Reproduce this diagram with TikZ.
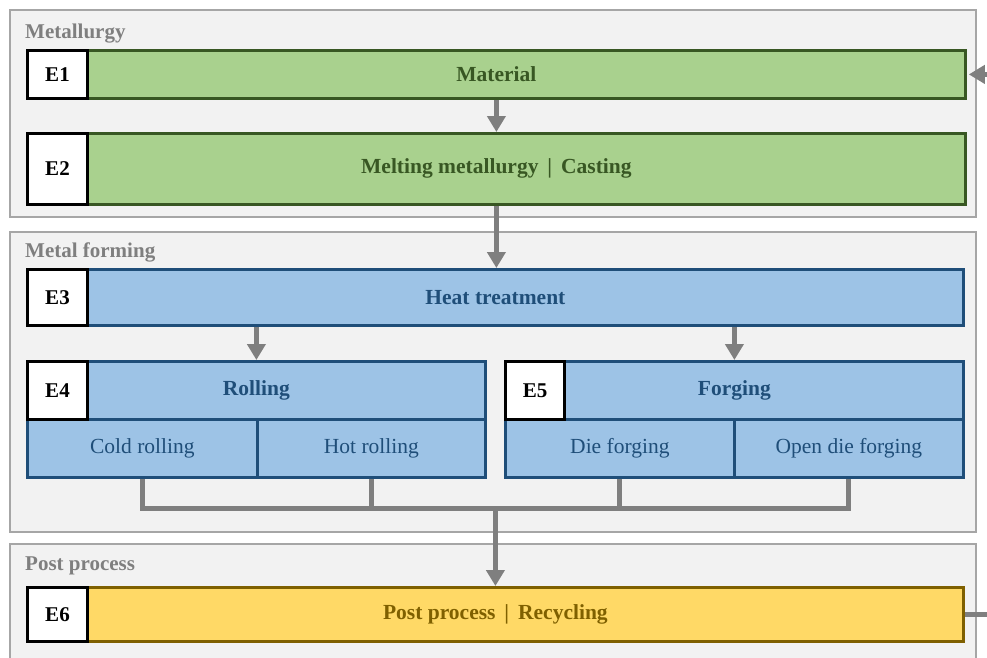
\documentclass[tikz,border=0pt]{standalone}
\usepackage{fontspec}
\setmainfont{Liberation Serif}
\usetikzlibrary{arrows.meta}

\definecolor{grpfill}{HTML}{F2F2F2}
\definecolor{grpline}{HTML}{A6A6A6}
\definecolor{grntxt}{HTML}{385723}
\definecolor{grnfill}{HTML}{A9D18E}
\definecolor{bluetxt}{HTML}{1F4E79}
\definecolor{bluefill}{HTML}{9DC3E6}
\definecolor{yeltxt}{HTML}{7F6000}
\definecolor{yelfill}{HTML}{FFD966}
\definecolor{flowgray}{HTML}{7F7F7F}

\newcommand\boxfont{\fontsize{21.5}{24}\selectfont}

\tikzset{
  group/.style={fill=grpfill, draw=grpline, line width=2pt},
  grptitle/.style={anchor=base west, inner sep=0, text=flowgray,
    font=\fontsize{21}{23}\selectfont\bfseries},
  box/.style={anchor=north west, inner sep=0, line width=2.8pt, font=\boxfont},
  greenbox/.style={box, fill=grnfill, draw=grntxt, text=grntxt, font=\boxfont\bfseries},
  bluebox/.style={box, fill=bluefill, draw=bluetxt, text=bluetxt},
  yellowbox/.style={box, fill=yelfill, draw=yeltxt, text=yeltxt, font=\boxfont\bfseries},
  tag/.style={anchor=north west, inner sep=0, fill=white, draw=black, line width=3pt,
    minimum width=60pt, font=\fontsize{21}{24}\selectfont\bfseries},
  link/.style={draw=flowgray, line width=5pt},
  flow/.style={link, -{Triangle[width=18pt,length=16pt]}},
}

\begin{document}
\begin{tikzpicture}[x=1pt, y=-1pt]
  \useasboundingbox (0,0) rectangle (987,657);
  \clip (0,0) rectangle (987,657);

  % process groups
  \draw[group] (10,10) rectangle (976,217);
  \draw[group] (10,232) rectangle (976,532);
  \draw[group] (10,544) rectangle (976,680);
  \node[grptitle] (t1) at (25,38) {Metallurgy};
  \node[grptitle] (t2) at (25,257) {Metal forming};
  \node[grptitle] (t3) at (25,570) {Post process};

  % metallurgy
  \node[greenbox, minimum width=938pt, minimum height=48pt] (e1) at (26,49) {Material};
  \node[tag, minimum height=48pt] (e1t) at (26,49) {E1};
  \node[greenbox, minimum width=938pt, minimum height=71pt] (e2) at (26,132)
    {Melting metallurgy \,|\, Casting};
  \node[tag, minimum height=71pt] (e2t) at (26,132) {E2};

  % metal forming
  \node[bluebox, minimum width=936pt, minimum height=56pt, font=\boxfont\bfseries]
    (e3) at (26,268) {Heat treatment};
  \node[tag, minimum height=56pt] (e3t) at (26,268) {E3};

  \node[bluebox, minimum width=458pt, minimum height=58pt, font=\boxfont\bfseries]
    (e4) at (26,360) {Rolling};
  \node[bluebox, minimum width=230pt, minimum height=58pt] (cold) at (26,418) {Cold rolling};
  \node[bluebox, minimum width=228pt, minimum height=58pt] (hot) at (256,418) {Hot rolling};
  \node[tag, minimum height=58pt] (e4t) at (26,360) {E4};

  \node[bluebox, minimum width=458pt, minimum height=58pt, font=\boxfont\bfseries]
    (e5) at (504,360) {Forging};
  \node[bluebox, minimum width=229pt, minimum height=58pt] (die) at (504,418) {Die forging};
  \node[bluebox, minimum width=229pt, minimum height=58pt] (open) at (733,418) {Open die forging};
  \node[tag, minimum width=59pt, minimum height=58pt] (e5t) at (504,360) {E5};

  % post process
  \node[yellowbox, minimum width=936pt, minimum height=54pt] (e6) at (26,586)
    {Post process \,|\, Recycling};
  \node[tag, minimum height=54pt] (e6t) at (26,586) {E6};

  % flow between steps
  \draw[flow] (e1.south) -- (e2.north);
  \draw[flow] (e2.south) -- (e2.south |- e3.north);
  \draw[flow] (e3.south -| e4.south) -- (e4.north);
  \draw[flow] (e3.south -| e5.south) -- (e5.north);

  % collecting bus below the forming steps
  \coordinate (bus) at (0,508);
  \draw[link] (cold.south) -- (cold.south |- bus) -- (open.south |- bus) -- (open.south);
  \draw[link] (hot.south) -- (hot.south |- bus);
  \draw[link] (die.south) -- (die.south |- bus);
  \draw[flow] (e6.north |- bus) -- (e6.north);

  % recycling loop back to the material
  \coordinate (loop) at (1010,0);
  \draw[flow] (e6.east) -- (e6.east -| loop) -- (e1.east -| loop) -- ([xshift=2pt]e1.east);
\end{tikzpicture}
\end{document}
